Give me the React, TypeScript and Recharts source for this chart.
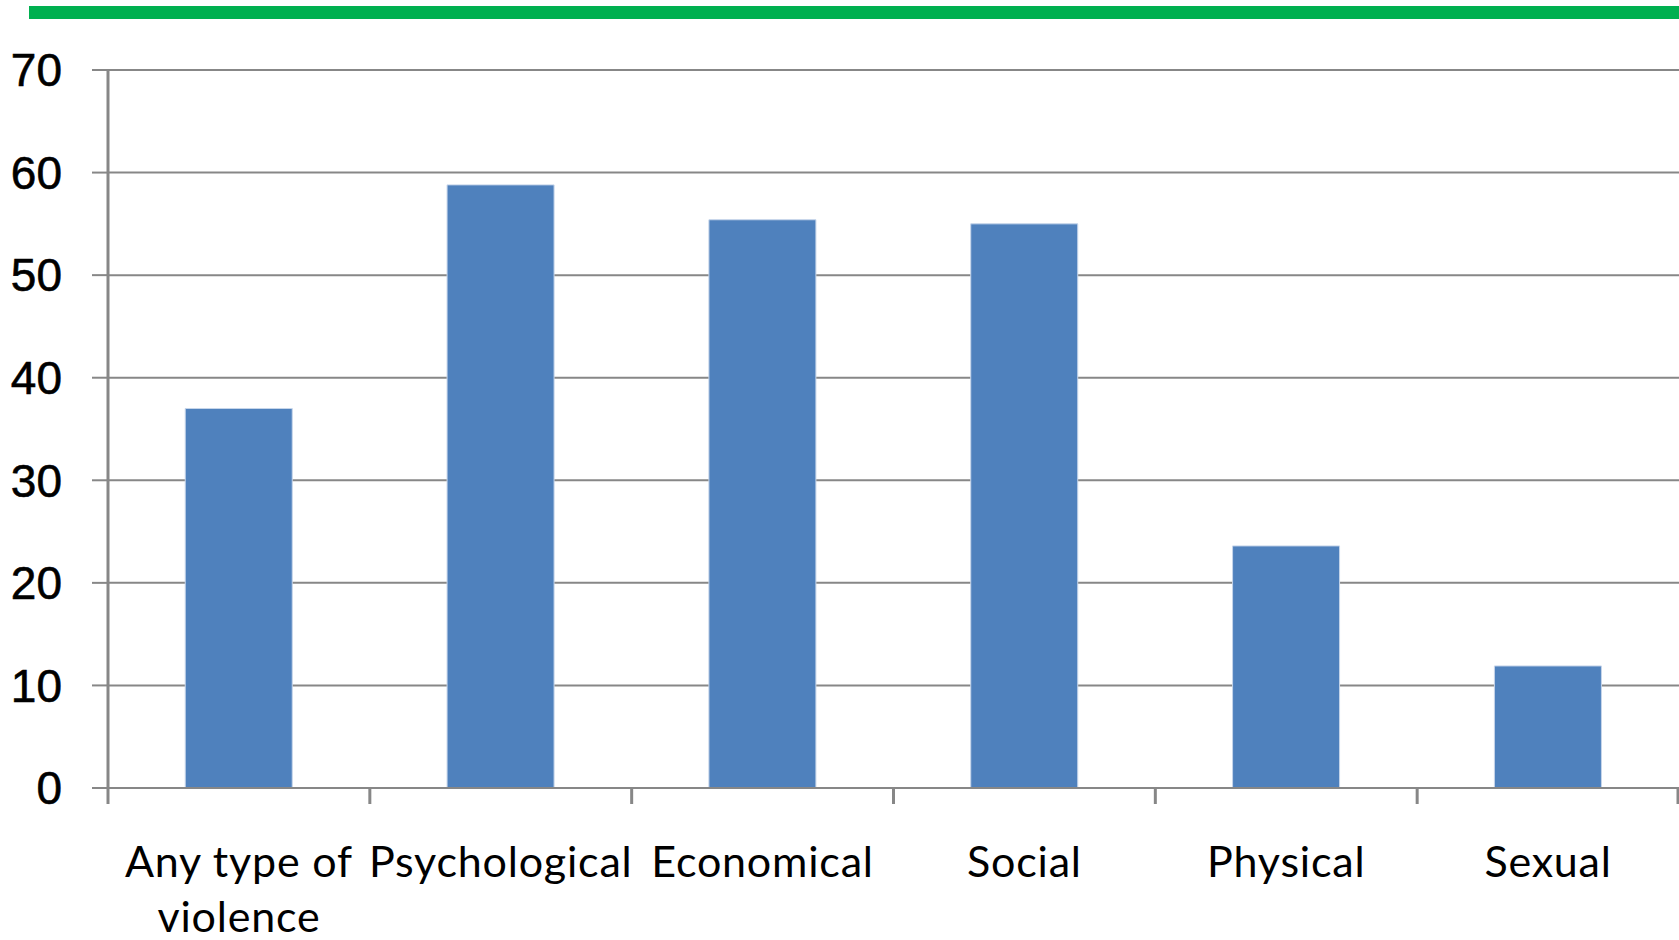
import React from 'react';
import { BarChart, Bar, XAxis, YAxis, CartesianGrid } from 'recharts';

const categories = ['Any type of violence', 'Psychological', 'Economical', 'Social', 'Physical', 'Sexual'];
const values = [37.0, 58.8, 55.4, 55.0, 23.6, 11.9];
const yTicks = [0, 10, 20, 30, 40, 50, 60, 70];

const data = categories.map((name, i) => ({ name, value: values[i] }));

const W = 1679;
const H = 940;
const AXIS_X = 108;
const BAND = (W - AXIS_X) / categories.length;
const GRID = '#878787';

// wraps the long first label onto two lines, like the original
const labelLines = (s: string) => (s === 'Any type of violence' ? ['Any type of', 'violence'] : [s]);

function CategoryTick(props: any) {
  const { x, y, payload, index } = props;
  const lines = labelLines(payload.value);
  return (
    <g>
      <line x1={x - BAND / 2} x2={x - BAND / 2} y1={y} y2={y + 16} stroke={GRID} strokeWidth={3} />
      {index === categories.length - 1 && (
        <line x1={x + BAND / 2 - 1} x2={x + BAND / 2 - 1} y1={y} y2={y + 16} stroke={GRID} strokeWidth={3} />
      )}
      <text
        x={x}
        y={y + 89}
        textAnchor="middle"
        fontFamily="Lato, 'Open Sans', sans-serif"
        fontSize={43}
        letterSpacing={0.8}
        fill="#000"
      >
        {lines.map((l, i) => (
          <tspan key={l} x={x} dy={i === 0 ? 0 : 55}>
            {l}
          </tspan>
        ))}
      </text>
    </g>
  );
}

export default function App() {
  return (
    <div style={{ position: 'absolute', left: 0, top: 0, width: W, height: H, background: '#fff' }}>
      <div style={{ position: 'absolute', left: 29, top: 6, width: W - 29, height: 13, background: '#00B050' }} />
      <BarChart
        width={W}
        height={H}
        data={data}
        margin={{ top: 70, right: 0, left: 0, bottom: 0 }}
        barCategoryGap="29.5%"
      >
        <CartesianGrid vertical={false} stroke={GRID} strokeWidth={2} />
        <YAxis
          width={AXIS_X}
          domain={[0, 70]}
          ticks={yTicks}
          interval={0}
          axisLine={{ stroke: GRID, strokeWidth: 3 }}
          tickLine={{ stroke: GRID, strokeWidth: 2 }}
          tickSize={16}
          tickMargin={30}
          tick={{ fill: '#000', fontSize: 46, fontFamily: "'Liberation Sans', Arial, sans-serif", stroke: '#000', strokeWidth: 0.6 }}
        />
        <XAxis
          dataKey="name"
          height={152}
          interval={0}
          axisLine={{ stroke: GRID, strokeWidth: 2 }}
          tickLine={false}
          tickSize={0}
          tickMargin={0}
          tick={<CategoryTick />}
        />
        <Bar dataKey="value" fill="#4F81BD" stroke="#C6D5EA" strokeWidth={1} isAnimationActive={false} />
      </BarChart>
    </div>
  );
}
